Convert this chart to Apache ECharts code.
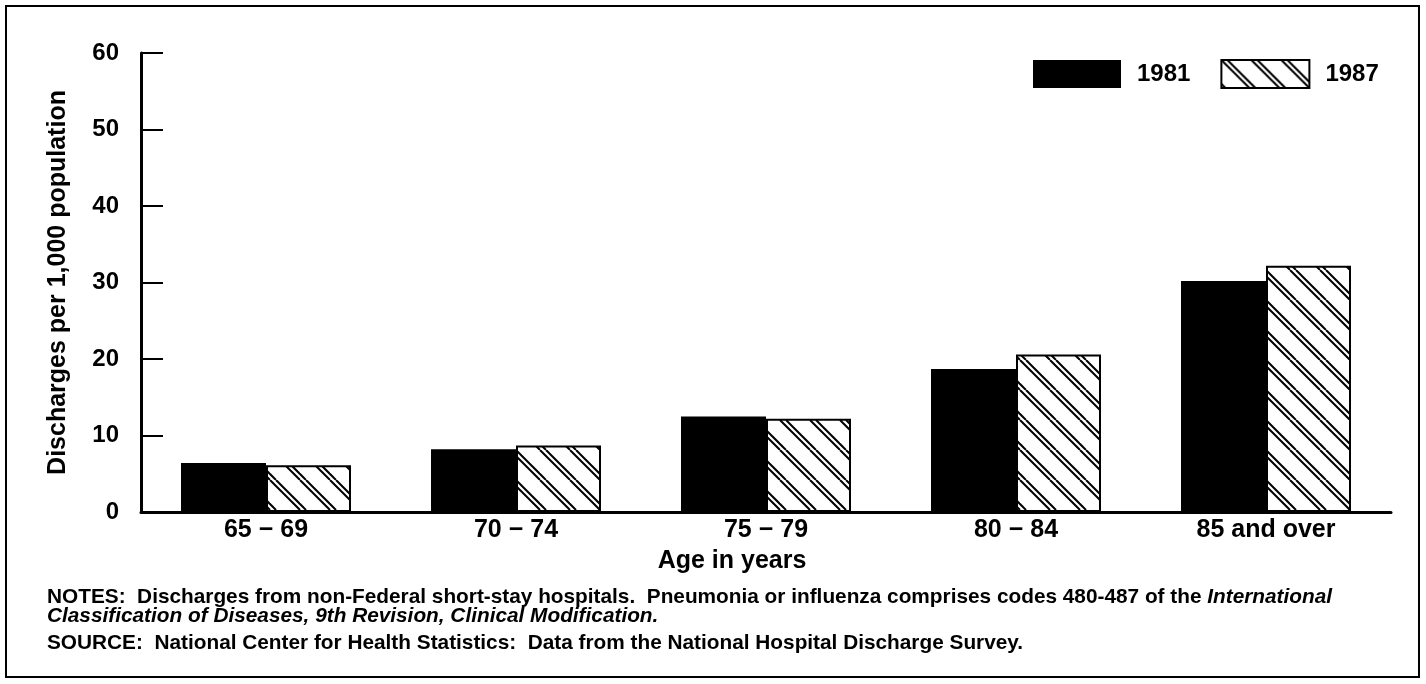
<!DOCTYPE html>
<html>
<head>
<meta charset="utf-8">
<script src="https://cdn.jsdelivr.net/npm/echarts@6/dist/echarts.min.js"></script>
<style>
  html, body { margin: 0; padding: 0; background: #fff; }
  #chart { width: 1426px; height: 684px; }
</style>
</head>
<body>
<div id="chart"></div>
<script>
// data
const ageGroups = ['65 \u2212 69', '70 \u2212 74', '75 \u2212 79', '80 \u2212 84', '85 and over']
const rate1981 = [6.4, 8.2, 12.5, 18.7, 30.2]
const rate1987 = [6.1, 8.7, 12.2, 20.6, 32.2]
const yTicks = { min: 0, max: 60, interval: 10 }

const font = '"Liberation Sans", Arial, Helvetica, sans-serif'

// double backslash hatch
function hatch() {
    const S = 30
    const c = document.createElement('canvas')
    c.width = S
    c.height = S
    const ctx = c.getContext('2d')
    ctx.fillStyle = '#fff'
    ctx.fillRect(0, 0, S, S)
    ctx.strokeStyle = '#000'
    ctx.lineWidth = 2
    for (let k = -1; k <= 1; k++) {
        for (const o of [0, 6]) {
            ctx.beginPath()
            ctx.moveTo(k * S + o, 0)
            ctx.lineTo(k * S + o + S, S)
            ctx.stroke()
        }
    }
    return c
}

const chart = echarts.init(document.getElementById('chart'))
const noteStyle = { fontSize: 20.8, fontWeight: 'bold', fontFamily: font, fill: '#000', textVerticalAlign: 'middle' }
const option = {
    backgroundColor: '#fff',
    animation: false,
    textStyle: { fontFamily: font, color: '#000', fontWeight: 'bold' },
    grid: { left: 141, right: 35, top: 53, bottom: 172 },
    legend: {
        left: 1028,
        top: 54,
        itemWidth: 88,
        itemHeight: 28,
        itemGap: 30,
        icon: 'rect',
        textStyle: { fontSize: 24, fontWeight: 'bold', color: '#000', padding: [0, 0, 0, 11], fontFamily: font },
        data: ['1981', '1987']
    },
    xAxis: {
        type: 'category',
        data: ageGroups,
        axisLine: { lineStyle: { color: '#000', width: 3 } },
        axisTick: { show: false },
        axisLabel: { fontSize: 25, fontWeight: 'bold', color: '#000', margin: 6, fontFamily: font }
    },
    yAxis: {
        type: 'value',
        min: yTicks.min,
        max: yTicks.max,
        interval: yTicks.interval,
        name: 'Discharges per 1,000 population',
        nameLocation: 'middle',
        nameGap: 70,
        nameTextStyle: { fontSize: 25, fontWeight: 'bold', color: '#000', fontFamily: font },
        axisLine: { show: true, lineStyle: { color: '#000', width: 3 } },
        axisTick: { show: true, inside: true, length: 22, lineStyle: { color: '#000', width: 2 } },
        axisLabel: { fontSize: 24, fontWeight: 'bold', color: '#000', margin: 22, fontFamily: font },
        splitLine: { show: false }
    },
    series: [
        {
            name: '1981',
            type: 'bar',
            data: rate1981,
            barWidth: 85,
            barGap: '0%',
            itemStyle: { color: '#000' }
        },
        {
            name: '1987',
            type: 'bar',
            data: rate1987,
            barWidth: 85,
            itemStyle: {
                color: { image: hatch(), repeat: 'repeat' },
                borderColor: '#000',
                borderWidth: 2
            }
        }
    ],
    graphic: [
        {
            type: 'rect',
            shape: { x: 6, y: 6, width: 1413, height: 671 },
            style: { fill: 'none', stroke: '#000', lineWidth: 2 },
            silent: true
        },
        {
            type: 'text',
            x: 732, y: 561,
            style: {
                text: 'Age in years', fontSize: 25, fontWeight: 'bold', fontFamily: font, fill: '#000',
                textAlign: 'center', textVerticalAlign: 'middle'
            }
        },
        {
            type: 'text',
            x: 47, y: 597,
            style: Object.assign({}, noteStyle, {
                text: 'NOTES:  Discharges from non-Federal short-stay hospitals.  Pneumonia or influenza comprises codes 480-487 of the {i|International}',
                rich: { i: { fontStyle: 'italic', fontWeight: 'bold', fontSize: 20.8, fontFamily: font } }
            })
        },
        {
            type: 'text',
            x: 47, y: 616,
            style: Object.assign({}, noteStyle, {
                text: 'Classification of Diseases, 9th Revision, Clinical Modification.',
                fontStyle: 'italic'
            })
        },
        {
            type: 'text',
            x: 47, y: 643,
            style: Object.assign({}, noteStyle, {
                text: 'SOURCE:  National Center for Health Statistics:  Data from the National Hospital Discharge Survey.'
            })
        }
    ]
}
chart.setOption(option)
</script>
</body>
</html>
